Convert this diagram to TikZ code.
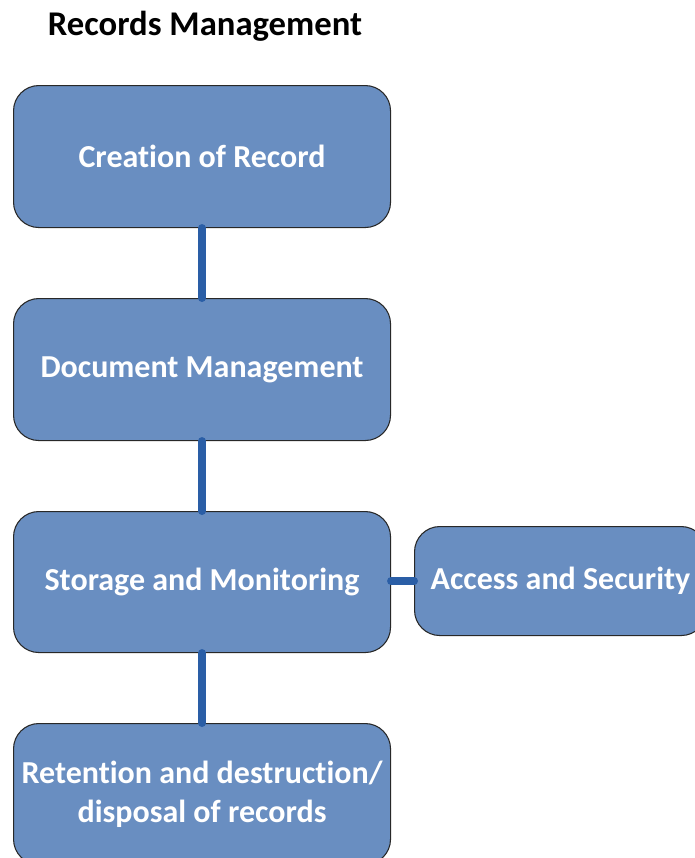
\documentclass[tikz,border=0pt]{standalone}
\usepackage{fontspec}
\setmainfont[Ligatures={NoCommon}]{Carlito}
\definecolor{boxfill}{RGB}{105,142,193}
\definecolor{boxline}{RGB}{40,40,40}
\definecolor{linkblue}{RGB}{42,94,166}
\begin{document}
\begin{tikzpicture}[x=0.75pt,y=-0.75pt,
  stage/.style={draw=boxline,line width=0.8pt,fill=boxfill,rounded corners=19pt,
    text=white,font=\bfseries\fontsize{24}{29}\selectfont,align=center,
    inner sep=0pt,anchor=north west},
  link/.style={draw=linkblue,line width=6pt,line cap=round}]
\useasboundingbox (0,0) rectangle (694,858);
\node[font=\bfseries\fontsize{26}{30}\selectfont,anchor=center] (title) at (205,26) {Records Management};
\node[stage,minimum width=377*0.75pt,minimum height=142*0.75pt] (create) at (13,85) {Creation of Record};
\node[stage,minimum width=377*0.75pt,minimum height=142*0.75pt] (docmgmt) at (13,298) {Document Management};
\node[stage,minimum width=377*0.75pt,minimum height=141*0.75pt] (storage) at (13,511) {Storage and Monitoring};
\node[stage,minimum width=377*0.75pt,minimum height=141*0.75pt] (retain) at (13,723) {Retention and destruction/\\disposal of records};
\node[stage,minimum width=292*0.75pt,minimum height=109*0.75pt] (access) at (414,526) {Access and Security};
\draw[link] (create.south) -- (docmgmt.north);
\draw[link] (docmgmt.south) -- (storage.north);
\draw[link] (storage.south) -- (retain.north);
\draw[link] (storage.east |- access.west) -- (access.west);
\end{tikzpicture}
\end{document}
